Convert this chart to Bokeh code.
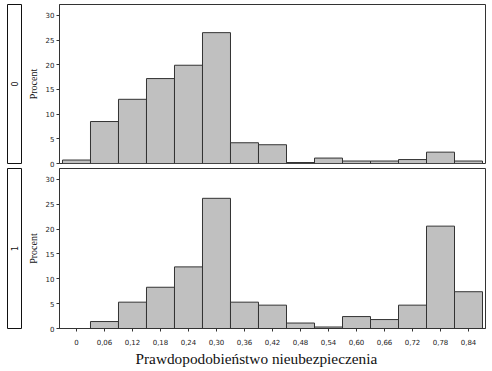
import math
from bokeh.plotting import figure
from bokeh.models import FixedTicker, Label, Title, ColumnDataSource
from bokeh.layouts import column, row
from bokeh.embed import file_html
from bokeh.resources import INLINE

# --- data ---------------------------------------------------------------
bin_centers = [0.0, 0.06, 0.12, 0.18, 0.24, 0.30, 0.36, 0.42, 0.48, 0.54, 0.60, 0.66, 0.72, 0.78, 0.84]
tick_labels = ["0", "0,06", "0,12", "0,18", "0,24", "0,30", "0,36", "0,42", "0,48", "0,54",
               "0,60", "0,66", "0,72", "0,78", "0,84"]
group_labels = ["0", "1"]
percent_group0 = [0.7, 8.5, 13.0, 17.2, 19.9, 26.5, 4.2, 3.8, 0.2, 1.1, 0.5, 0.5, 0.8, 2.3, 0.5]
percent_group1 = [0.0, 1.4, 5.3, 8.3, 12.4, 26.2, 5.3, 4.7, 1.1, 0.3, 2.4, 1.8, 4.7, 20.6, 7.4]
bin_width = 0.06
y_ticks = [0, 5, 10, 15, 20, 25, 30]
x_title = "Prawdopodobieństwo nieubezpieczenia"
y_title = "Procent"

# --- style --------------------------------------------------------------
BAR_FILL = "#c0c0c0"
EDGE = "#333333"
TICK_FONT = "DejaVu Sans"
SERIF = "Liberation Serif"
XR = (-0.0364, 0.8764)
YR = (0, 32.2)

STRIP_W = 22
PANEL_W = 470
BORDER_LEFT = 37
BORDER_RIGHT = 7


def panel(values, height, b_top, b_bottom, show_x):
    p = figure(width=PANEL_W, height=height, x_range=XR, y_range=YR,
               output_backend="svg", toolbar_location=None,
               min_border_left=BORDER_LEFT, min_border_right=BORDER_RIGHT,
               min_border_top=b_top, min_border_bottom=b_bottom)
    src = ColumnDataSource(dict(x=bin_centers, top=values))
    p.vbar(x="x", top="top", bottom=0, width=bin_width, source=src,
           fill_color=BAR_FILL, line_color=EDGE, line_width=1)
    p.xgrid.visible = False
    p.ygrid.visible = False
    p.outline_line_color = EDGE
    p.outline_line_width = 1
    p.background_fill_color = "white"
    p.border_fill_color = "white"

    ya = p.yaxis[0]
    ya.ticker = FixedTicker(ticks=y_ticks)
    ya.major_tick_out = 3
    ya.major_tick_in = 0
    ya.minor_tick_out = 0
    ya.minor_tick_in = 0
    ya.axis_line_color = EDGE
    ya.major_tick_line_color = EDGE
    ya.major_label_text_font = TICK_FONT
    ya.major_label_text_font_size = "7px"
    ya.major_label_text_color = "#222222"
    ya.major_label_standoff = 2
    ya.axis_label = y_title
    ya.axis_label_text_font = SERIF
    ya.axis_label_text_font_style = "normal"
    ya.axis_label_text_font_size = "10px"
    ya.axis_label_text_color = "#111111"
    ya.axis_label_standoff = 4

    xa = p.xaxis[0]
    if show_x:
        xa.ticker = FixedTicker(ticks=bin_centers)
        xa.major_label_overrides = {c: t for c, t in zip(bin_centers, tick_labels)}
        xa.major_tick_out = 3
        xa.major_tick_in = 0
        xa.minor_tick_out = 0
        xa.minor_tick_in = 0
        xa.axis_line_color = EDGE
        xa.major_tick_line_color = EDGE
        xa.major_label_text_font = TICK_FONT
        xa.major_label_text_font_size = "7px"
        xa.major_label_text_color = "#222222"
        xa.major_label_standoff = 7
        t = Title(text=x_title, align="left", offset=76, standoff=1,
                  text_font=SERIF, text_font_size="15.3px", text_font_style="normal",
                  text_color="#111111")
        p.add_layout(t, "below")
    else:
        xa.visible = False
    return p


def strip(label, height, b_top, b_bottom):
    s = figure(width=STRIP_W, height=height, x_range=(0, 1), y_range=(0, 1),
               output_backend="svg", toolbar_location=None,
               min_border_left=7, min_border_right=1,
               min_border_top=b_top, min_border_bottom=b_bottom)
    s.xaxis.visible = False
    s.yaxis.visible = False
    s.xgrid.visible = False
    s.ygrid.visible = False
    s.outline_line_color = "#111111"
    s.outline_line_width = 1
    s.add_layout(Label(x=0.5, y=0.5, text=label, angle=math.pi / 2,
                       text_align="center", text_baseline="middle",
                       text_font=TICK_FONT, text_font_size="8px", text_color="#111111"))
    return s


p0 = panel(percent_group0, 168, 4, 4, False)
p1 = panel(percent_group1, 203, 0, 42, True)
s0 = strip(group_labels[0], 168, 4, 5)
s1 = strip(group_labels[1], 203, 0, 43)

layout = column(row(s0, p0), row(s1, p1))

open("out.html", "w").write(file_html(layout, INLINE))
